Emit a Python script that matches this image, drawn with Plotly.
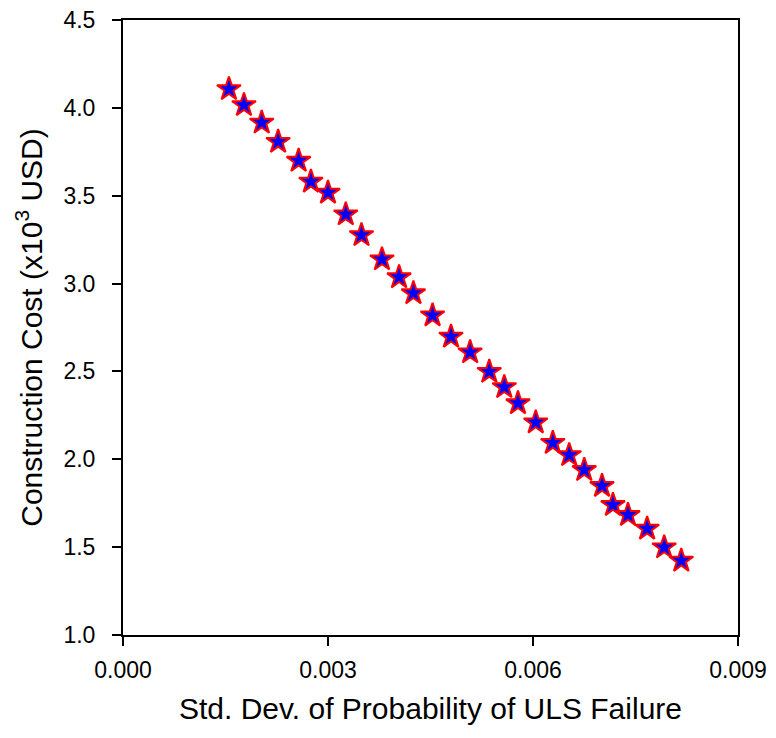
import plotly.graph_objects as go

# std. dev. of probability of ULS failure vs construction cost (x10^3 USD)
std_dev = [0.00155, 0.00177, 0.00203, 0.00227, 0.00257, 0.00275, 0.00300,
           0.00326, 0.00349, 0.00379, 0.00404, 0.00425, 0.00453, 0.00480,
           0.00508, 0.00536, 0.00558, 0.00578, 0.00604, 0.00629, 0.00653,
           0.00675, 0.00701, 0.00717, 0.00739, 0.00767, 0.00792, 0.00817]
cost = [4.107, 4.016, 3.916, 3.807, 3.699, 3.580, 3.517,
        3.394, 3.276, 3.138, 3.036, 2.945, 2.819, 2.698,
        2.609, 2.498, 2.411, 2.319, 2.210, 2.093, 2.024,
        1.939, 1.848, 1.740, 1.683, 1.605, 1.499, 1.423]

x_ticks = [0.0, 0.003, 0.006, 0.009]
y_ticks = [1.0, 1.5, 2.0, 2.5, 3.0, 3.5, 4.0, 4.5]

FONT = "Liberation Sans, Arial"

fig = go.Figure()
fig.add_trace(go.Scatter(
    x=std_dev, y=cost, mode="markers",
    marker=dict(symbol="star", size=18, color="#0000ff",
                line=dict(color="#ff0000", width=2)),
    showlegend=False,
))

axis_style = dict(
    showline=True, linecolor="black", linewidth=2, mirror=True,
    ticks="outside", ticklen=9, tickwidth=1.5, tickcolor="black",
    showgrid=False, zeroline=False, automargin=False,
    ticklabeloverflow="allow", ticklabelposition="outside",
    tickfont=dict(family=FONT, size=23, color="black"),
)

fig.update_xaxes(
    range=[0, 0.009], tickmode="array", tickvals=x_ticks,
    ticktext=[f"{v:.3f}" for v in x_ticks],
    ticklabelstandoff=4,
    title=dict(text="Std. Dev. of Probability of ULS Failure", standoff=16,
               font=dict(family=FONT, size=30, color="black")),
    **axis_style,
)
fig.update_yaxes(
    range=[1.0, 4.5], tickmode="array", tickvals=y_ticks,
    ticktext=[f"{v:.1f}" for v in y_ticks],
    ticklabelstandoff=12,
    title=dict(text="Construction Cost (x10<sup>3</sup> USD)", standoff=12,
               font=dict(family=FONT, size=30, color="black")),
    **axis_style,
)

# page body has an 8px margin, so the figure is drawn a bit smaller
fig.update_layout(
    width=768, height=730,
    template="plotly_white",
    plot_bgcolor="white", paper_bgcolor="white",
    margin=dict(l=115, r=38, t=12, b=103),
)

fig.write_html("out.html")
